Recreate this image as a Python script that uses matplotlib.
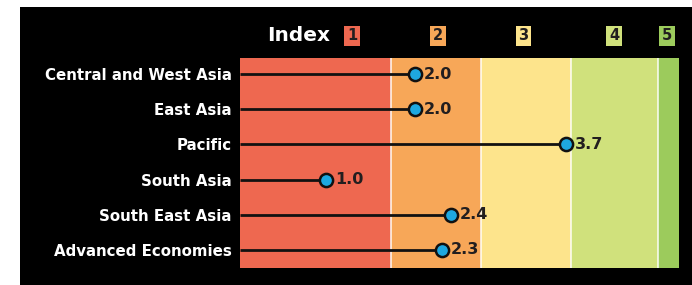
import matplotlib.pyplot as plt
from matplotlib.patches import Rectangle
import matplotlib.transforms as mtransforms

# data
regions = ["Central and West Asia", "East Asia", "Pacific", "South Asia",
           "South East Asia", "Advanced Economies"]
values = [2.0, 2.0, 3.7, 1.0, 2.4, 2.3]

# index bands (edges in index units) and colours
band_edges = [0.03, 1.73, 2.74, 3.75, 4.73, 4.97]
band_colors = ["#EE6850", "#F7A758", "#FDE48C", "#D0E17C", "#9CCB5C"]
index_labels = ["1", "2", "3", "4", "5"]

fig = plt.figure(figsize=(6.92, 2.85), dpi=100)
fig.patch.set_facecolor("white")
# black panel
fig.add_artist(Rectangle((20 / 692, 0), 1, 1 - 7 / 285, transform=fig.transFigure,
                         facecolor="black", edgecolor="none", zorder=0))

ax = fig.add_axes([240 / 692, 17 / 285, 439 / 692, 210 / 285])
ax.set_facecolor("black")

for i in range(len(band_colors)):
    ax.axvspan(band_edges[i], band_edges[i + 1], color=band_colors[i], lw=0, zorder=1)
for e in band_edges[1:-1]:
    ax.axvline(e, color="white", lw=1.3, alpha=0.8, zorder=2)

ys = list(range(len(regions)))
ax.hlines(ys, band_edges[0], values, color="#111111", lw=2, zorder=3)
ax.scatter(values, ys, s=90, facecolor="#1EA8E0", edgecolor="#111111", lw=1.8, zorder=4)
for v, y in zip(values, ys):
    ax.text(v + 0.1, y, f"{v:.1f}", va="center", ha="left", fontsize=11.5,
            fontweight="bold", color="#221E1F", zorder=5)

ax.set_xlim(band_edges[0], band_edges[-1])
ax.set_ylim(len(regions) - 0.485, -0.455)
ax.set_xticks([])
ax.set_yticks(ys)
ax.set_yticklabels(regions, fontsize=10.8, fontweight="bold", color="white")
ax.tick_params(axis="y", length=0, pad=6)
for s in ax.spines.values():
    s.set_visible(False)

# header
trans = mtransforms.blended_transform_factory(ax.transData, ax.transAxes)
ax.text(0.33, 1.105, "Index", transform=trans, ha="left", va="center", fontsize=14.5,
        fontweight="bold", color="white")
box_x = [1.29, 2.26, 3.22, 4.24, 4.83]
for bx, lab, c in zip(box_x, index_labels, band_colors):
    ax.text(bx, 1.105, lab, transform=trans, ha="center", va="center", fontsize=10.5,
            fontweight="bold", color="#221E1F",
            bbox=dict(boxstyle="square,pad=0.2", facecolor=c, edgecolor="none"))

fig.savefig("out.png", dpi=100, facecolor=fig.get_facecolor())
